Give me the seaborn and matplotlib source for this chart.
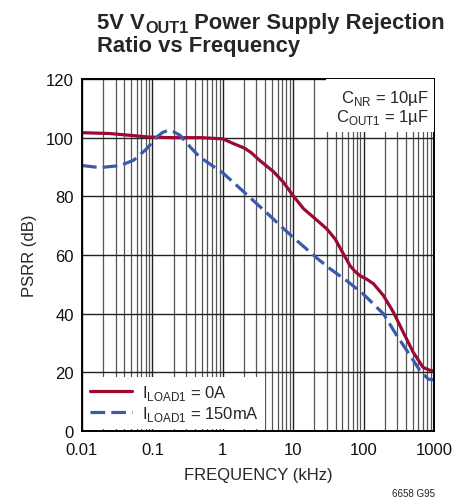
import numpy as np
import pandas as pd
import matplotlib
matplotlib.use("Agg")
import matplotlib.pyplot as plt
from matplotlib import font_manager
from matplotlib.ticker import LogLocator, FixedLocator, NullFormatter
from matplotlib.lines import Line2D
from matplotlib.patches import Rectangle
import seaborn as sns

# ---- data ----
freq_0A = [0.01, 0.025, 0.048, 0.09, 0.2, 0.5, 1, 1.41, 2, 2.5, 3.36, 5.2, 7.2, 10, 14,
           20, 30, 39.3, 50, 64, 75, 88, 110, 138, 191, 265, 365, 505, 700, 890, 1000]
psrr_0A = [101.7, 101.4, 100.8, 100.2, 100, 100, 99.6, 98, 96.5, 95, 92.2, 88.5, 84.9, 80.2,
           75.8, 72.6, 68.9, 65.5, 61, 56.4, 54.5, 53, 51.8, 50.2, 46.2, 40.5, 33.7,
           26.9, 21.7, 20.6, 20.6]
freq_150 = [0.01, 0.018, 0.035, 0.054, 0.083, 0.115, 0.14, 0.168, 0.2, 0.247, 0.342, 0.47,
            1, 1.58, 3, 4.9, 6.5, 10, 22.3, 33.4, 57, 98, 192, 297, 460, 630, 830, 1000]
psrr_150 = [90.5, 89.8, 90.5, 92.3, 96.2, 100.2, 101.8, 102.5, 102, 100.8, 96.9, 93.4,
            88, 83.7, 77.6, 72.9, 70.1, 66, 58.7, 55.3, 51.3, 46.8, 39.9, 32.5, 25.7, 20.6,
            17.7, 17.4]
series_labels = [r"I$_{\mathregular{LOAD1}}$ = 0A", r"I$_{\mathregular{LOAD1}}$ = 150mA"]
x_ticks = [0.01, 0.1, 1, 10, 100, 1000]
x_ticklabels = ["0.01", "0.1", "1", "10", "100", "1000"]
y_ticks = [0, 20, 40, 60, 80, 100, 120]
cond_lines = [r"C$_{\mathregular{NR}}$ = 10µF", r"C$_{\mathregular{OUT1}}$ = 1µF"]

sns.set_theme(style="white")
avail = {f.name for f in font_manager.fontManager.ttflist}
base = "Liberation Sans" if "Liberation Sans" in avail else "DejaVu Sans"
narrow = "Liberation Sans Narrow" if "Liberation Sans Narrow" in avail else base
plt.rcParams["font.family"] = [base, "DejaVu Sans"]

df = pd.concat([
    pd.DataFrame({"f": freq_0A, "psrr": psrr_0A, "s": series_labels[0]}),
    pd.DataFrame({"f": freq_150, "psrr": psrr_150, "s": series_labels[1]}),
])

W, H = 470, 502
L, R, T, B = 82, 434, 80, 432
fig = plt.figure(figsize=(W/100, H/100), dpi=100)
ax = fig.add_axes([L/W, 1-B/H, (R-L)/W, (B-T)/H])

red = "#9b0a30"
blue = "#3a5aaa"
lw = 2.3
sns.lineplot(data=df, x="f", y="psrr", hue="s", style="s",
             palette=[red, blue], dashes=[(None, None), (4.6, 1.9)],
             linewidth=lw, ax=ax, legend=False, sort=False)
ax.set_xscale("log")
ax.set_xlim(0.01, 1000)
ax.set_ylim(0, 120)
ax.xaxis.set_major_locator(FixedLocator(x_ticks))
ax.set_xticklabels(x_ticklabels)
ax.xaxis.set_minor_locator(LogLocator(base=10, subs=np.arange(2, 10)))
ax.xaxis.set_minor_formatter(NullFormatter())
ax.set_yticks(y_ticks)
ax.grid(which="major", axis="both", color="#222222", linewidth=1.0)
ax.grid(which="minor", axis="x", color="#555555", linewidth=0.9)
ax.tick_params(axis="x", which="both", length=0, labelsize=12, pad=8, colors="#111111")
ax.tick_params(axis="y", which="both", length=0, labelsize=12, pad=6, colors="#111111")
for sp in ax.spines.values():
    sp.set_color("black")
    sp.set_linewidth(1.4)
ax.set_xlabel("FREQUENCY (kHz)", fontsize=12, labelpad=7)
ax.set_ylabel("PSRR (dB)", fontsize=12, labelpad=6)

# legend
handles = [Line2D([], [], color=red, lw=lw),
           Line2D([], [], color=blue, lw=lw, dashes=(4.6, 1.9))]
leg = ax.legend(handles, series_labels, loc="lower left", fontsize=12, frameon=True,
                fancybox=False, framealpha=1, edgecolor="white", handlelength=2.5,
                borderaxespad=0.15, borderpad=0.35, labelspacing=0.1, handletextpad=0.6)
leg.get_frame().set_linewidth(0)

# condition box (top right)
def ay(py):
    return (B - py) / (B - T)
def axx(px):
    return (px - L) / (R - L)
ax.add_patch(Rectangle((axx(326), ay(133)), axx(R) - axx(326), ay(T) - ay(133),
                       transform=ax.transAxes, facecolor="white", edgecolor="none", zorder=4))
ax.text(axx(429), ay(103), cond_lines[0], transform=ax.transAxes, ha="right",
        va="baseline", fontsize=12, zorder=5)
ax.text(axx(429), ay(122), cond_lines[1], transform=ax.transAxes, ha="right",
        va="baseline", fontsize=12, zorder=5)

# title with subscript
fig.canvas.draw()
r = fig.canvas.get_renderer()
tsize = 15.8
y1 = 1 - 29.5/H
t1 = fig.text(97/W, y1, "5V V", fontsize=tsize, fontweight="bold", family=narrow,
              ha="left", va="baseline")
bb = t1.get_window_extent(r)
t2 = fig.text(bb.x1/W + 0.001, y1 - 4/H, "OUT1", fontsize=tsize*0.74, fontweight="bold",
              family=narrow, ha="left", va="baseline")
bb2 = t2.get_window_extent(r)
fig.text(bb2.x1/W, y1, " Power Supply Rejection", fontsize=tsize, fontweight="bold",
         family=narrow, ha="left", va="baseline")
fig.text(97/W, 1 - 52/H, "Ratio vs Frequency", fontsize=tsize, fontweight="bold",
         family=narrow, ha="left", va="baseline")

fig.text(435/W, 1 - 497/H, "6658 G95", fontsize=7, ha="right", va="baseline", color="#222")

fig.savefig("out.png", dpi=100)
